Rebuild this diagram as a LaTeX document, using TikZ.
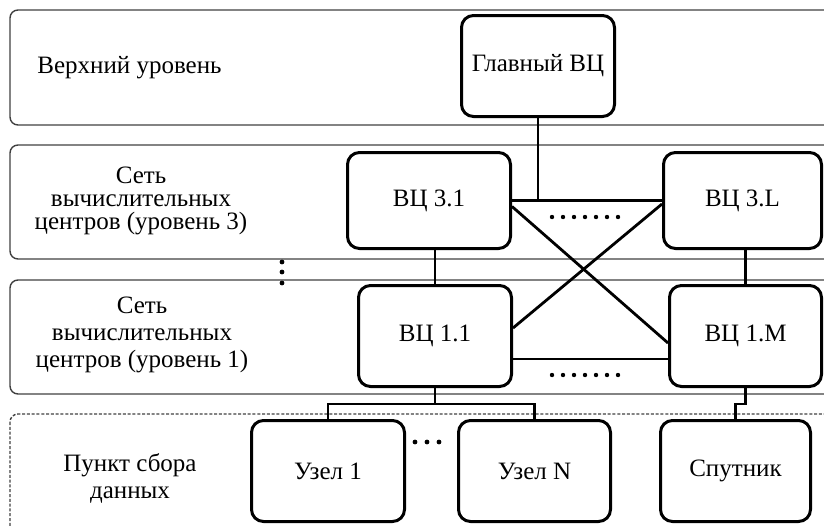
\documentclass[tikz,border=0pt]{standalone}
\usepackage{fontspec}
\setmainfont{Liberation Serif}
\usetikzlibrary{positioning}

\begin{document}
\begin{tikzpicture}[x=0.5pt, y=-0.5pt,
    font=\fontsize{12.5}{14}\selectfont,
    layer/.style={draw=black!75, line width=0.7pt, rounded corners=4pt},
    vcbox/.style={draw, line width=1.5pt, rounded corners=6pt,
                  minimum width=76.5pt, minimum height=50.5pt, inner sep=2pt},
    link/.style={line width=1.4pt},
    lbl/.style={align=center, font=\fontsize{12.5}{11.5}\selectfont}]
    \useasboundingbox (0,0) rectangle (824,525);
    \clip (0,0) rectangle (824,525);

    % levels
    \draw[layer] (10,10)  rectangle (860,125);
    \draw[layer] (10,145) rectangle (860,259);
    \draw[layer] (10,280) rectangle (860,394);
    \draw[layer, dash pattern=on 1.5pt off 0.9pt] (10,414) rectangle (860,560);

    \node[anchor=west, inner sep=0pt] (toplbl) at (37,68) {Верхний уровень};
    \node[lbl] (net3lbl) at (141,201) {Сеть\\вычислительных\\центров (уровень 3)};
    \node[lbl, font=\fontsize{12.5}{13.5}\selectfont] (net1lbl) at (142,335) {Сеть\\вычислительных\\центров (уровень 1)};
    \node[lbl, font=\fontsize{12.5}{13.5}\selectfont] (pointlbl) at (130,478) {Пункт сбора\\данных};

    % computing centres
    \node[vcbox] (main) at (538,66) {Главный ВЦ};
    \node[vcbox, minimum width=81.5pt, minimum height=48pt] (v31) at (429,200.5) {ВЦ 3.1};
    \node[vcbox, minimum width=79pt, minimum height=48pt] (v3L) at (742.5,200.5) {ВЦ 3.L};
    \node[vcbox] (v11) at (435,336) {ВЦ 1.1};
    \node[vcbox, minimum width=76pt] (v1M) at (745.5,336) {ВЦ 1.M};

    % data collection
    \node[vcbox] (u1) at (328,471) {Узел 1};
    \node[vcbox, minimum width=76pt] (uN) at (534.5,471) {Узел N};
    \node[vcbox, minimum width=75pt] (sat) at (735.5,471) {Спутник};

    \begin{scope}[link]
      \draw (v31.east) -- (v3L.west);
      \draw (main.south) -- (main.south |- v31.east);
      \draw (v11.north) -- (v11.north |- v31.south);
      \draw (v1M.north) -- (v1M.north |- v3L.south);
      \draw ([yshift=-3pt]v31.east) -- ([yshift=-3.5pt]v1M.west);
      \draw ([yshift=-1.75pt]v3L.west) -- ([yshift=4pt]v11.east);
      \draw ([yshift=-11.5pt]v11.east) -- ([yshift=-11.5pt]v1M.west);

      \coordinate (fork) at ([yshift=-8pt]v11.south);
      \draw (v11.south) -- (fork);
      \draw (u1.north) |- (fork) -| (uN.north);
      \draw (v1M.south) |- ([yshift=7.5pt]sat.north) -- (sat.north);
    \end{scope}

    \foreach \x in {552,563,...,618} {
      \fill (\x,217) circle[radius=1.1pt];
      \fill (\x,375) circle[radius=1.1pt];
    }
    \foreach \x in {415,427,439} \fill (\x,442) circle[radius=1.2pt];
    \foreach \y in {262,272,283} \fill (282,\y) circle[radius=1.2pt];
  \end{tikzpicture}
\end{document}
